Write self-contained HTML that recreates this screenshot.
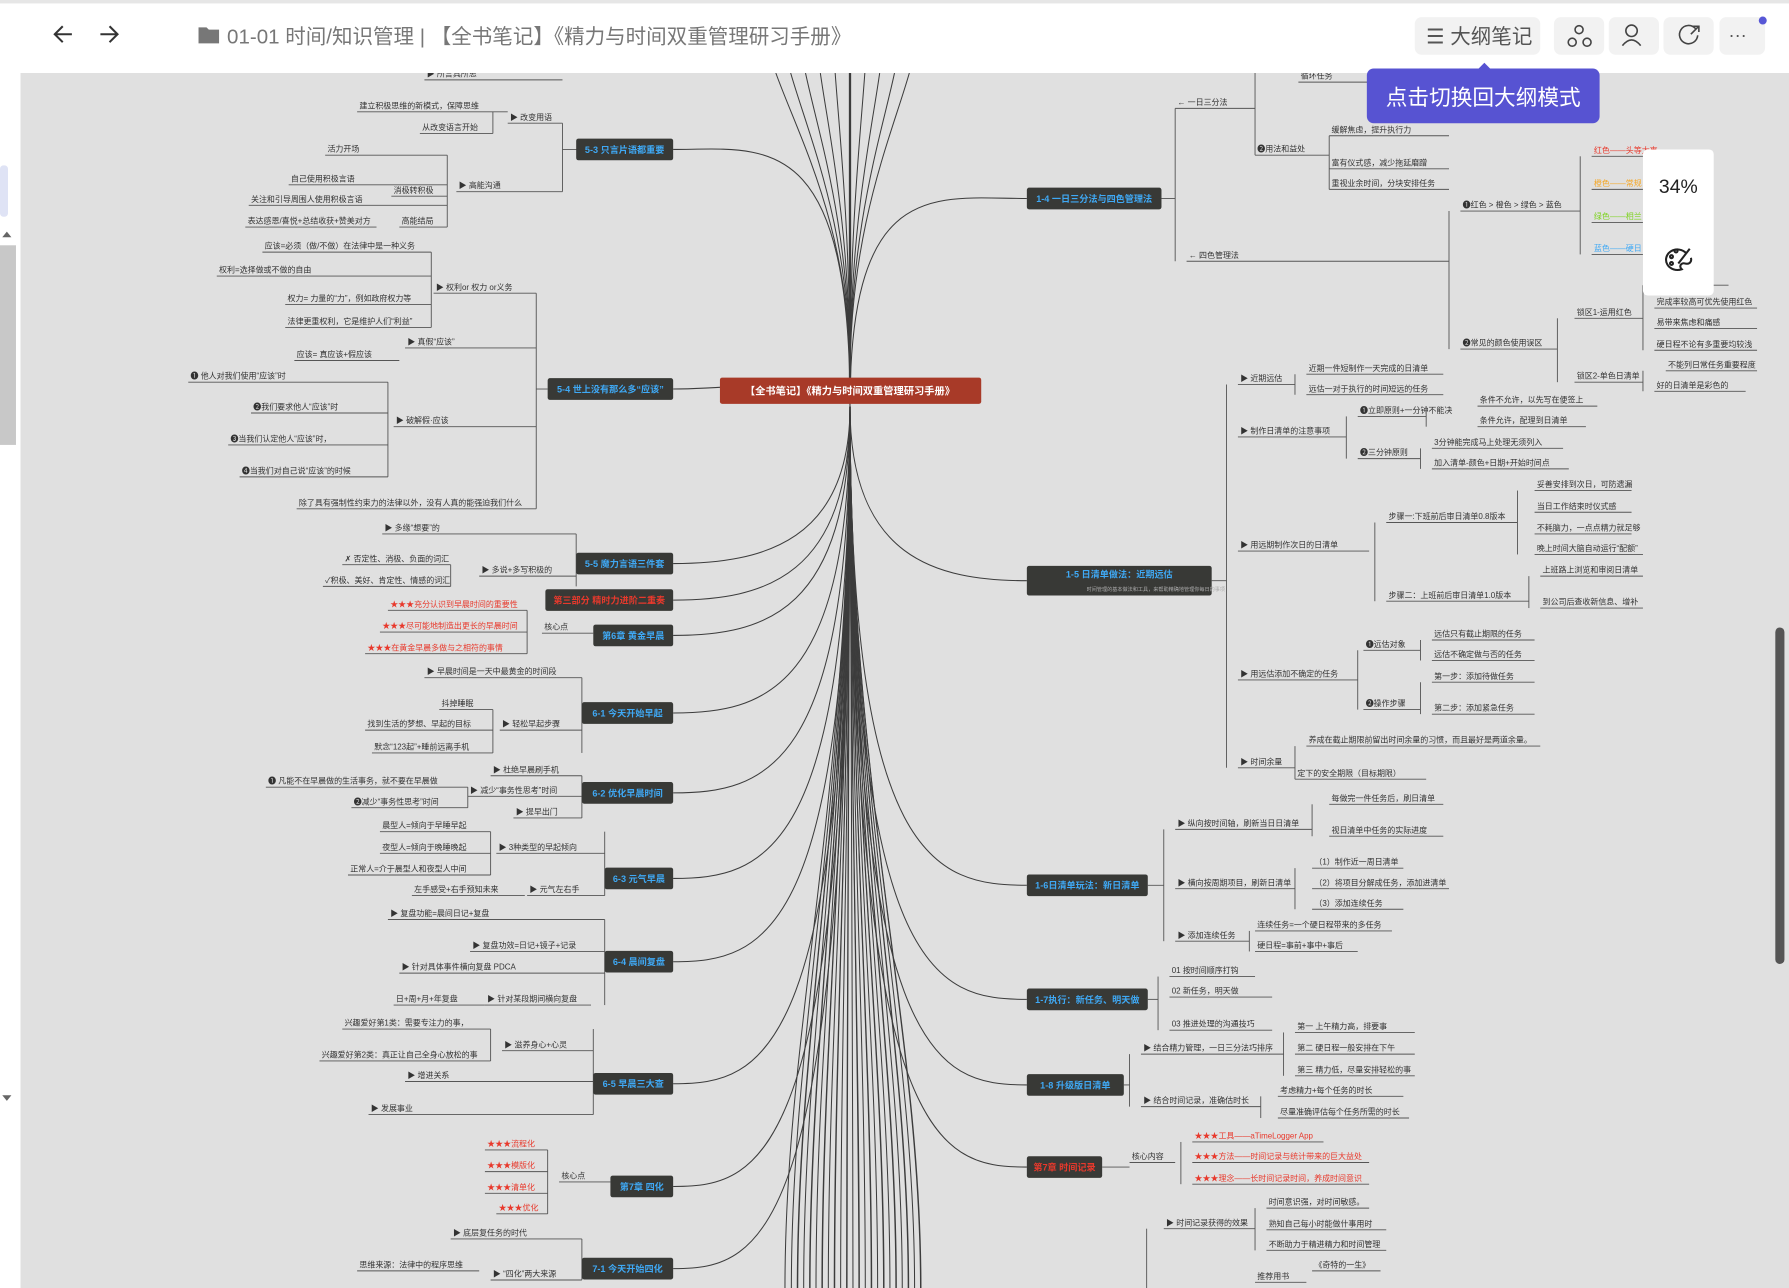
<!DOCTYPE html>
<html><head><meta charset="utf-8">
<style>
html,body{margin:0;padding:0;width:1789px;height:1288px;overflow:hidden;background:#e0e0e0;font-family:"Liberation Sans","Noto Sans CJK SC",sans-serif}
svg{display:block}
</style></head><body>
<svg id="s" width="1789" height="1288" viewBox="0 0 1568 1129" preserveAspectRatio="none" xmlns="http://www.w3.org/2000/svg" font-family="Liberation Sans, Noto Sans CJK SC, sans-serif">
<rect width="1568" height="1129" fill="#e0e0e0"/>
<g id="lines" fill="none" stroke="#3c3c3c" stroke-width="0.9"></g>
<g id="leaf"></g>
<g id="nodes"></g>
<!-- top bar -->
<rect x="0" y="0" width="1568" height="64" fill="#fff"/>
<rect x="0" y="0" width="1568" height="3" fill="#e6e6e6"/>
<rect x="0" y="64" width="18" height="1065" fill="#fff"/>
<rect x="0" y="145" width="7" height="45" rx="3" fill="#dfe3f5"/>
<rect x="0" y="215" width="14" height="175" fill="#c8c8c8"/>
<path d="M2 208 L10 208 L6 203 Z M2 960 L10 960 L6 965 Z" fill="#666"/>
<path d="M63 30 H48 M55 23 L48 30 L55 37" stroke="#333" stroke-width="1.8" fill="none"/>
<path d="M88 30 H103 M96 23 L103 30 L96 37" stroke="#333" stroke-width="1.8" fill="none"/>
<path d="M174 24 h7 l2 2 h9 v12 h-18 z" fill="#777"/>
<text x="199" y="38" font-size="18" fill="#777">01-01 时间/知识管理  |  【全书笔记】《精力与时间双重管理研习手册》</text>
<rect x="1240" y="15" width="110" height="33" rx="6" fill="#f2f2f2"/>
<text x="1250" y="38" font-size="18" fill="#555">☰ 大纲笔记</text>
<rect x="1362" y="15" width="44" height="33" rx="6" fill="#f2f2f2"/>
<rect x="1410" y="15" width="44" height="33" rx="6" fill="#f2f2f2"/>
<rect x="1458" y="15" width="44" height="33" rx="6" fill="#f2f2f2"/>
<rect x="1507" y="15" width="40" height="33" rx="6" fill="#f2f2f2"/>
<circle cx="1545" cy="18" r="3.5" fill="#5757d6"/>
<g stroke="#444" stroke-width="1.4" fill="none">
<circle cx="1384" cy="26" r="3.5"/><circle cx="1378" cy="37" r="3.5"/><circle cx="1391" cy="37" r="3.5"/>
<circle cx="1430" cy="27" r="5"/><path d="M1422 40 q8 -10 16 0"/>
<path d="M1486 25 a8 8 0 1 0 2 6 M1482 30 l7 -7 M1484 23 h5 v5"/>
</g>
<text x="1515" y="36" font-size="16" fill="#555">···</text>
<path d="M1296 60 l5 -5 l5 5 z" fill="#5753d2"/>
<rect x="1198" y="60" width="204" height="48" rx="6" fill="#5753d2"/>
<text x="1300" y="92" font-size="19" fill="#fff" text-anchor="middle">点击切换回大纲模式</text>
<rect x="1440" y="131" width="62" height="128" rx="4" fill="#fff"/>
<text x="1471" y="169" font-size="17" fill="#222" text-anchor="middle">34%</text>
<g stroke="#222" stroke-width="1.8" fill="none">
<path d="M1478 222 a10 9 0 1 0 -4 14 c-3 -3 0 -6 3 -5 c4 1 6 -2 5 -5"/>
<circle cx="1465" cy="225" r="1.3"/><circle cx="1469" cy="220" r="1.3"/><circle cx="1465" cy="231" r="1.3"/>
<path d="M1471 231 l10 -13"/>
</g>
<rect x="1556" y="550" width="8" height="295" rx="4" fill="#555"/>
</svg>
<script>
var NS="http://www.w3.org/2000/svg";
function el(p,t,a,tx){var e=document.createElementNS(NS,t);for(var k in a)e.setAttribute(k,a[k]);if(tx!=null)e.textContent=tx;document.getElementById(p).appendChild(e);return e;}
var CX=745,CY=342;
var N=[
[505,590,131,"5-3 只言片语都重要","#3fa9f5","L"],
[480,590,341,"5-4 世上没有那么多“应该”","#3fa9f5","L"],
[505,590,494,"5-5 魔力言语三件套","#3fa9f5","L"],
[478,590,526,"第三部分 精时力进阶二重奏","#e8392c","L"],
[520,590,557,"第6章 黄金早晨","#3fa9f5","L"],
[510,590,625,"6-1 今天开始早起","#3fa9f5","L"],
[510,590,695,"6-2 优化早晨时间","#3fa9f5","L"],
[530,590,770,"6-3 元气早晨","#3fa9f5","L"],
[530,590,843,"6-4 晨间复盘","#3fa9f5","L"],
[520,590,950,"6-5 早晨三大查","#3fa9f5","L"],
[535,590,1040,"第7章 四化","#3fa9f5","L"],
[510,590,1112,"7-1 今天开始四化","#3fa9f5","L"],
[900,1018,174,"1-4 一日三分法与四色管理法","#3fa9f5","R"],
[900,1062,509,"1-5 日清单做法：近期远估","#3fa9f5","R",26],
[900,1006,776,"1-6日清单玩法：新日清单","#3fa9f5","R"],
[900,1006,876,"1-7执行：新任务、明天做","#3fa9f5","R"],
[900,985,951,"1-8 升级版日清单","#3fa9f5","R"],
[900,966,1023,"第7章 时间记录","#e8392c","R"]
];
N.forEach(function(n){
 var h=n[6]||19;
 var ex=n[5]=="L"?n[1]:n[0];
 var sy=CY+14;
 el("lines","path",{d:"M"+CX+" "+sy+" C"+CX+" "+(n[2]-20)+" "+(ex+(n[5]=="L"?80:-80))+" "+n[2]+" "+ex+" "+n[2]});
 el("nodes","rect",{x:n[0],y:n[2]-h/2,width:n[1]-n[0],height:h,rx:2,fill:"#383936"});
 el("nodes","text",{x:(n[0]+n[1])/2,y:n[2]+(n[6]?-3:3),"font-size":8,"font-weight":"bold",fill:n[4],"text-anchor":"middle"},n[3]);
});
el("nodes","text",{x:1013,y:518,"font-size":4.5,fill:"#aaa","text-anchor":"middle"},"时间管理的基本做法和工具，来帮助精确地管理你每日的事项");
el("nodes","rect",{x:631,y:331,width:229,height:23,rx:2,fill:"#a83a28"});
el("nodes","text",{x:745,y:346,"font-size":9,"font-weight":"bold",fill:"#fff","text-anchor":"middle"},"【全书笔记】《精力与时间双重管理研习手册》");
for(var i=0;i<34;i++){var bx=688+i*3.6+(i%3)*2;el("lines","path",{d:"M"+CX+" 356 C"+CX+" 700 "+bx+" 900 "+bx+" 1129"});}
for(var i=0;i<10;i++){var bx=700+i*9;el("lines","path",{d:"M"+CX+" 331 C"+CX+" 200 "+bx+" 120 "+(bx-20+i*4)+" 64"});}
el("lines","path",{d:"M745 331 V64","stroke-width":2});
var T=[
[372,493,70,"▶ 所言具所思",7],[313,445,98,"建立积极思维的新模式，保障思维",7],[368,432,117,"从改变语言开始",7],[445,493,108,"▶ 改变用语",7],
[285,392,136,"活力开场",7],[253,392,162,"自己使用积极言语",7],[218,392,180,"关注和引导周围人使用积极言语",7],[215,330,199,"表达感恩/喜悦+总结收获+赞美对方",7],
[343,392,172,"消极转积极",7],[350,392,199,"高能结局",7],[400,493,168,"▶ 高能沟通",7],
[230,378,221,"应该=必须（做/不做）在法律中是一种义务",7],[190,378,242,"权利=选择做或不做的自由",7],[250,378,267,"权力= 力量的“力”，例如政府权力等",7],[250,378,287,"法律更重权利，它是维护人们“利益”",7],
[380,470,257,"▶ 权利or 权力 or义务",7],[258,350,316,"应该= 真应该+假应该",7],[355,470,305,"▶ 真假“应该”",7],
[165,340,335,"❶ 他人对我们使用“应该”时",7],[220,340,362,"❷我们要求他人“应该”时",7],[200,340,390,"❸当我们认定他人“应该”时，",7],[210,340,418,"❹当我们对自己说“应该”的时候",7],
[345,470,374,"▶ 破解假·应该",7],[260,470,446,"除了具有强制性约束力的法律以外，没有人真的能强迫我们什么",7],
[335,505,468,"▶ 多缘“想要”的",7],[300,395,495,"✗ 否定性、消极、负面的词汇",7],[283,395,514,"✓积极、美好、肯定性、情感的词汇",7],[420,505,505,"▶ 多说+多写积极的",7],
[340,462,535,"★★★充分认识到早晨时间的重要性",7,"#e8392c"],[333,462,554,"★★★尽可能地制造出更长的早晨时间",7,"#e8392c"],[320,462,573,"★★★在黄金早晨多做与之相符的事情",7,"#e8392c"],[475,520,555,"核心点",7],
[372,510,594,"▶ 早晨时间是一天中最黄金的时间段",7],[385,432,622,"抖掉睡眠",7],[320,432,640,"找到生活的梦想、早起的目标",7],[326,432,660,"默念“123起”+睡前远离手机",7],[438,510,640,"▶ 轻松早起步骤",7],
[430,510,680,"▶ 杜绝早晨刷手机",7],[233,410,690,"❶ 凡能不在早晨做的生活事务，就不要在早晨做",7],[308,410,708,"❷减少“事务性思考”时间",7],[410,510,698,"▶ 减少“事务性思考”时间",7],[450,510,717,"▶ 提早出门",7],
[333,430,729,"晨型人=倾向于早睡早起",7],[333,430,748,"夜型人=倾向于晚睡晚起",7],[305,430,767,"正常人=介于晨型人和夜型人中间",7],[435,530,748,"▶ 3种类型的早起倾向",7],[361,460,785,"左手感受+右手预知未来",7],[462,530,785,"▶ 元气左右手",7],
[340,530,806,"▶ 复盘功能=晨间日记+复盘",7],[412,530,834,"▶ 复盘功效=日记+镜子+记录",7],[350,530,853,"▶ 针对具体事件横向复盘 PDCA",7],[345,425,881,"日+周+月+年复盘",7],[425,518,881,"▶ 针对某段期间横向复盘",7],
[300,430,902,"兴趣爱好第1类：需要专注力的事，",7],[280,430,930,"兴趣爱好第2类：真正让自己全身心放松的事",7],[440,520,921,"▶ 滋养身心+心灵",7],[355,520,948,"▶ 增进关系",7],[323,520,977,"▶ 发展事业",7],
[425,480,1008,"★★★流程化",7,"#e8392c"],[425,480,1027,"★★★模版化",7,"#e8392c"],[425,480,1046,"★★★清单化",7,"#e8392c"],[435,480,1064,"★★★优化",7,"#e8392c"],[490,535,1036,"核心点",7],
[395,510,1086,"▶ 底层复任务的时代",7],[313,420,1114,"思维来源：法律中的程序思维",7],[430,510,1122,"▶ “四化”两大来源",7],
[1138,1200,72,"循环任务",7],[1030,1100,95,"← 一日三分法",7],[1165,1270,119,"缓解焦虑，提升执行力",7],[1165,1270,148,"富有仪式感，减少拖延磨蹭",7],[1165,1270,166,"重视业余时间，分块安排任务",7],[1100,1165,136,"❷用法和益处",7],
[1040,1270,229,"← 四色管理法",7],[1280,1385,185,"❶红色 > 橙色 > 绿色 > 蓝色",7],[1395,1440,137,"红色——头等大事",7,"#e8392c"],[1395,1440,166,"橙色——常规",7,"#f5a623"],[1395,1440,195,"绿色——相兰",7,"#7ed321"],[1395,1440,223,"蓝色——硬日",7,"#3fa9f5"],
[1440,1515,250,"事",7],[1450,1540,270,"完成率较高可优先使用红色",7],[1450,1540,288,"易带来焦虑和痛感",7],[1450,1540,307,"硬日程不论有多重要均较浅",7],[1380,1440,279,"锁区1-运用红色",7],[1460,1540,325,"不能列日常任务重要程度",7],[1380,1440,335,"锁区2-单色日清单",7],[1450,1530,343,"好的日清单是彩色的",7],[1280,1365,306,"❷常见的颜色使用误区",7],
[1085,1135,337,"▶ 近期远估",7],[1145,1265,328,"近期一件短制作一天完成的日清单",7],[1145,1265,346,"远估一对于执行的时间短远的任务",7],[1085,1180,383,"▶ 制作日清单的注意事项",7],
[1190,1250,365,"❶立即原则+一分钟不能决",7],[1295,1400,356,"条件不允许，以先写在便签上",7],[1295,1390,374,"条件允许，配理到日清单",7],[1190,1245,402,"❷三分钟原则",7],[1255,1370,393,"3分钟能完成马上处理无须列入",7],[1255,1375,411,"加入清单-颜色+日期+开始时间点",7],
[1085,1200,483,"▶ 用远期制作次日的日清单",7],[1215,1330,458,"步骤一:下班前后审日清单0.8版本",7],[1345,1430,430,"妥善安排到次日，可防遗漏",7],[1345,1430,449,"当日工作结束时仪式感",7],[1345,1430,468,"不耗脑力，一点点精力就足够",7],[1345,1440,486,"晚上时间大脑自动运行“配额”",7],[1215,1340,527,"步骤二：上班前后审日清单1.0版本",7],[1350,1440,505,"上班路上浏览和审阅日清单",7],[1350,1440,533,"到公司后查收新信息、增补",7],
[1085,1190,596,"▶ 用远估添加不确定的任务",7],[1195,1245,570,"❶远估对象",7],[1255,1345,561,"远估只有截止期限的任务",7],[1255,1345,579,"远估不确定做与否的任务",7],[1195,1245,622,"❷操作步骤",7],[1255,1345,598,"第一步：添加待做任务",7],[1255,1345,626,"第二步：添加紧急任务",7],
[1085,1135,673,"▶ 时间余量",7],[1145,1350,654,"养成在截止期限前留出时间余量的习惯，而且最好是两道余量。",7],[1135,1250,683,"定下的安全期限（目标期限）",7],
[1030,1150,727,"▶ 纵向按时间轴，刷新当日日清单",7],[1165,1265,705,"每做完一件任务后，刷日清单",7],[1165,1265,733,"视日清单中任务的实际进度",7],[1030,1135,779,"▶ 横向按周期项目，刷新日清单",7],[1150,1230,761,"（1）制作近一周日清单",7],[1150,1270,779,"（2）将项目分解成任务，添加进清单",7],[1150,1230,797,"（3）添加连续任务",7],
[1030,1095,825,"▶ 添加连续任务",7],[1100,1220,816,"连续任务=一个硬日程带来的多任务",7],[1100,1190,834,"硬日程=事前+事中+事后",7],
[1025,1100,856,"01 按时间顺序打钩",7],[1025,1115,874,"02 新任务，明天做",7],[1025,1115,903,"03 推进处理的沟通技巧",7],
[1000,1125,924,"▶ 结合精力管理，一日三分法巧排序",7],[1135,1240,905,"第一 上午精力高，排要事",7],[1135,1240,924,"第二 硬日程一般安排在下午",7],[1135,1240,943,"第三 精力低，尽量安排轻松的事",7],[1000,1105,970,"▶ 结合时间记录，准确估时长",7],[1120,1230,961,"考虑精力+每个任务的时长",7],[1120,1235,980,"尽量准确评估每个任务所需的时长",7],
[990,1030,1019,"核心内容",7],[1045,1160,1001,"★★★工具——aTimeLogger App",7,"#e8392c"],[1045,1200,1019,"★★★方法——时间记录与统计带来的巨大益处",7,"#e8392c"],[1045,1200,1038,"★★★理念——长时间记录时间，养成时间意识",7,"#e8392c"],
[1020,1100,1077,"▶ 时间记录获得的效果",7],[1110,1200,1059,"时间意识强，对时间敏感。",7],[1110,1215,1078,"熟知自己每小时能做什事用时",7],[1110,1215,1096,"不断助力于精进精力和时间管理",7],[1100,1145,1124,"推荐用书",7],[1150,1210,1114,"《奇特的一生》",7]
];
T.forEach(function(t){
 el("leaf","line",{x1:t[0],y1:t[2],x2:t[1],y2:t[2],stroke:"#555","stroke-width":0.8});
 el("leaf","text",{x:t[0]+2,y:t[2]-3,"font-size":t[4],fill:t[5]||"#333"},t[3]);
});
var B=[[493,108,168],[392,136,199],[432,98,117],[470,257,446],[378,221,287],[340,335,418],[505,468,514],[395,495,514],[462,535,573],[510,594,660],[432,622,660],[510,680,717],[410,690,708],[530,729,785],[430,729,767],[530,806,881],[520,902,977],[430,902,930],[480,1008,1064],[510,1086,1122],
[1030,95,229],[1100,60,136],[1165,119,166],[1270,185,306],[1385,137,223],[1365,279,335],[1440,250,307],[1440,325,343],
[1075,337,673],[1135,328,346],[1180,365,402],[1250,356,374],[1245,393,411],[1205,458,527],[1330,430,486],[1340,505,533],[1190,570,622],[1245,561,579],[1245,598,626],[1135,654,683],
[1020,727,825],[1150,705,733],[1135,761,797],[1095,816,834],[1015,856,903],[990,924,970],[1125,905,943],[1105,961,980],[1035,1001,1038],[1005,1077,1129],[1100,1059,1096]];
B.forEach(function(b){el("leaf","line",{x1:b[0],y1:b[1],x2:b[0],y2:b[2],stroke:"#555","stroke-width":0.8});});
[[493,590,131],[470,480,341],[505,505,494],[510,510,625],[510,510,695],[530,530,770],[530,530,843],[520,520,950],[510,510,1112],[1018,1030,174],[1062,1075,509],[1006,1020,776],[1006,1015,876],[985,990,951],[966,990,1023]].forEach(function(c){el("leaf","line",{x1:c[0],y1:c[2],x2:c[1],y2:c[2],stroke:"#555","stroke-width":0.8});});
</script>
</body></html>
